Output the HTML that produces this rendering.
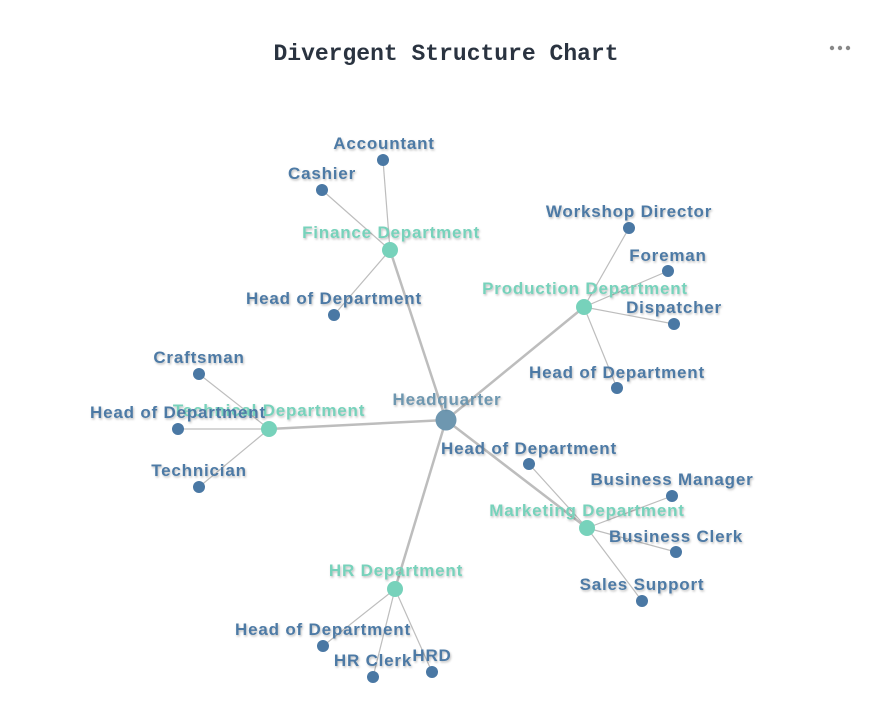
<!DOCTYPE html>
<html><head><meta charset="utf-8"><style>
html,body{margin:0;padding:0;background:#fff;}
svg text{font-family:"Liberation Sans",sans-serif;font-weight:bold;font-size:17px;letter-spacing:0.8px;text-anchor:middle;}
.b{fill:#4d7aa5;}
.g{fill:#77d2bb;}
.h{fill:#6e97b0;}
.t{font-family:"Liberation Mono",monospace;font-size:23px;fill:#2a3340;text-anchor:middle;letter-spacing:0;}
</style></head><body>
<svg width="869" height="712" viewBox="0 0 869 712" xmlns="http://www.w3.org/2000/svg">
<defs><filter id="s" x="-20%" y="-50%" width="140%" height="200%"><feDropShadow dx="1" dy="1.5" stdDeviation="1" flood-color="#000" flood-opacity="0.25"/></filter></defs>
<text class="t" x="446" y="60">Divergent Structure Chart</text>
<g fill="#888"><circle cx="832" cy="48" r="2.2"/><circle cx="840" cy="48" r="2.2"/><circle cx="848" cy="48" r="2.2"/></g>
<g stroke="#bdbdbd" stroke-width="2.5">
<line x1="446" y1="420" x2="390" y2="250"/><line x1="446" y1="420" x2="584" y2="307"/>
<line x1="446" y1="420" x2="269" y2="429"/><line x1="446" y1="420" x2="587" y2="528"/>
<line x1="446" y1="420" x2="395" y2="589"/>
</g>
<g stroke="#bdbdbd" stroke-width="1.2">
<line x1="390" y1="250" x2="383" y2="160"/><line x1="390" y1="250" x2="322" y2="190"/><line x1="390" y1="250" x2="334" y2="315"/>
<line x1="584" y1="307" x2="629" y2="228"/><line x1="584" y1="307" x2="668" y2="271"/><line x1="584" y1="307" x2="674" y2="324"/><line x1="584" y1="307" x2="617" y2="388"/>
<line x1="269" y1="429" x2="199" y2="374"/><line x1="269" y1="429" x2="178" y2="429"/><line x1="269" y1="429" x2="199" y2="487"/>
<line x1="587" y1="528" x2="529" y2="464"/><line x1="587" y1="528" x2="672" y2="496"/><line x1="587" y1="528" x2="676" y2="552"/><line x1="587" y1="528" x2="642" y2="601"/>
<line x1="395" y1="589" x2="323" y2="646"/><line x1="395" y1="589" x2="373" y2="677"/><line x1="395" y1="589" x2="432" y2="672"/>
</g>
<g fill="#4a78a4">
<circle cx="383" cy="160" r="6"/><circle cx="322" cy="190" r="6"/><circle cx="334" cy="315" r="6"/>
<circle cx="629" cy="228" r="6"/><circle cx="668" cy="271" r="6"/><circle cx="674" cy="324" r="6"/><circle cx="617" cy="388" r="6"/>
<circle cx="199" cy="374" r="6"/><circle cx="178" cy="429" r="6"/><circle cx="199" cy="487" r="6"/>
<circle cx="529" cy="464" r="6"/><circle cx="672" cy="496" r="6"/><circle cx="676" cy="552" r="6"/><circle cx="642" cy="601" r="6"/>
<circle cx="323" cy="646" r="6"/><circle cx="373" cy="677" r="6"/><circle cx="432" cy="672" r="6"/>
</g>
<g fill="#77d2bb">
<circle cx="390" cy="250" r="8"/><circle cx="584" cy="307" r="8"/><circle cx="269" cy="429" r="8"/><circle cx="587" cy="528" r="8"/><circle cx="395" cy="589" r="8"/>
</g>
<circle cx="446" cy="420" r="10.5" fill="#6e97b0"/>
<g filter="url(#s)">
<text class="b" x="384" y="149">Accountant</text>
<text class="b" x="322" y="179">Cashier</text>
<text class="g" x="391" y="238">Finance Department</text>
<text class="b" x="334" y="304">Head of Department</text>
<text class="b" x="629" y="217">Workshop Director</text>
<text class="b" x="668" y="261">Foreman</text>
<text class="g" x="585" y="294">Production Department</text>
<text class="b" x="674" y="313">Dispatcher</text>
<text class="b" x="617" y="378">Head of Department</text>
<text class="h" x="447" y="405">Headquarter</text>
<text class="b" x="199" y="363">Craftsman</text>
<text class="g" x="269" y="416">Technical Department</text>
<text class="b" x="178" y="418">Head of Department</text>
<text class="b" x="199" y="476">Technician</text>
<text class="b" x="529" y="454">Head of Department</text>
<text class="b" x="672" y="485">Business Manager</text>
<text class="g" x="587" y="516">Marketing Department</text>
<text class="b" x="676" y="542">Business Clerk</text>
<text class="b" x="642" y="590">Sales Support</text>
<text class="g" x="396" y="576">HR Department</text>
<text class="b" x="323" y="635">Head of Department</text>
<text class="b" x="373" y="666">HR Clerk</text>
<text class="b" x="432" y="661">HRD</text>
</g>
</svg>
</body></html>
